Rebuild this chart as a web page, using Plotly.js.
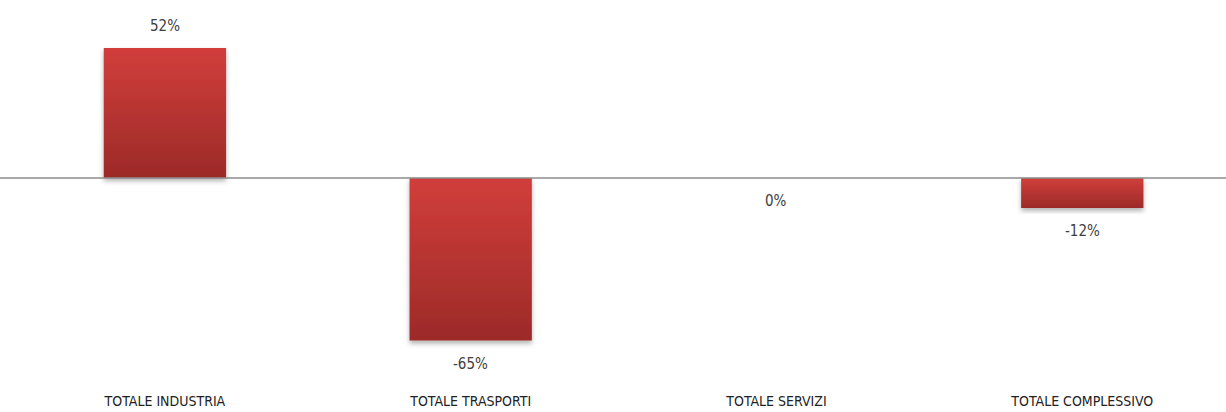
<!DOCTYPE html>
<html><head><meta charset="utf-8">
<script src="https://cdn.plot.ly/plotly-3.0.1.min.js"></script>
<style>html,body{margin:0;padding:0;background:#fff}#chart{width:1226px;height:412px}</style>
</head><body><div id="chart"></div>
<script>
const categories = ["TOTALE INDUSTRIA", "TOTALE TRASPORTI", "TOTALE SERVIZI", "TOTALE COMPLESSIVO"];
const values = [52, -65, 0, -12];
const labels = ["52%", "-65%", "0%", "-12%"];

const font = "'Liberation Sans Narrow', 'DejaVu Sans Condensed', 'Liberation Sans', sans-serif";

const trace = {
  type: 'bar', x: categories, y: values, width: 0.4,
  marker: {color: '#b83331', line: {width: 0}},
  hoverinfo: 'none'
};

const annotations = categories.map((c, i) => ({
  x: c, y: values[i], text: labels[i], showarrow: false,
  yshift: values[i] > 0 ? 22 : -23,
  font: {family: font, size: 15, color: '#404040'}
}));

const layout = {
  width: 1226, height: 412,
  margin: {l: 12, r: 0, t: 0, b: 52},
  paper_bgcolor: '#fff', plot_bgcolor: '#fff',
  showlegend: false,
  xaxis: {range: [-0.5, 3.47], showgrid: false, zeroline: false, showline: false,
    ticks: '', tickfont: {family: font, size: 14, color: '#222'}, ticklabelstandoff: 31, fixedrange: true},
  yaxis: {range: [-72.8, 71.2], showgrid: false, zeroline: false, showticklabels: false, showline: false, fixedrange: true},
  shapes: [{type: 'line', xref: 'paper', x0: -0.02, x1: 1, yref: 'y', y0: 0, y1: 0,
    line: {color: '#8c8c8c', width: 1.5}, layer: 'above'}],
  annotations: annotations
};

Plotly.newPlot('chart', [trace], layout, {staticPlot: true}).then(gd => {
  const svg = gd.querySelector('svg.main-svg');
  const ns = 'http://www.w3.org/2000/svg';
  const defs = document.createElementNS(ns, 'defs');
  defs.innerHTML = '<linearGradient id="barGrad" x1="0" y1="0" x2="0" y2="1">' +
    '<stop offset="0" stop-color="#d13e3b"/><stop offset="1" stop-color="#9c2a28"/></linearGradient>' +
    '<filter id="barShadow" x="-10%" y="-10%" width="120%" height="130%">' +
    '<feDropShadow dx="0" dy="3" stdDeviation="2.5" flood-color="#000" flood-opacity="0.3"/></filter>';
  svg.insertBefore(defs, svg.firstChild);
  gd.querySelectorAll('.bars .point path').forEach(p => {
    p.style.fill = 'url(#barGrad)';
    p.setAttribute('filter', 'url(#barShadow)');
  });
});
</script></body></html>
